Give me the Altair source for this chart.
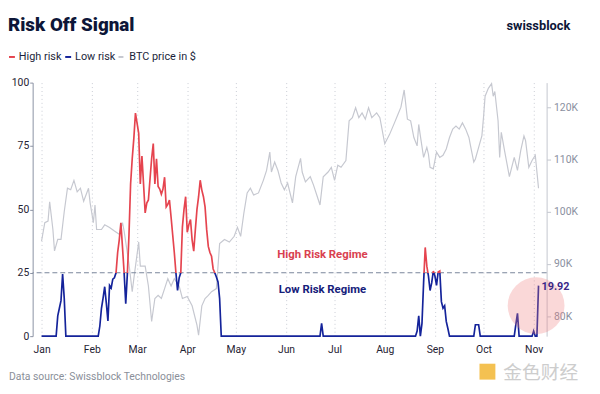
import altair as alt
import pandas as pd

# ---------------- data ----------------
risk_dates = [
    "2025-01-01", "2025-01-10", "2025-01-11", "2025-01-12", "2025-01-13", "2025-01-14", "2025-01-15", "2025-01-16",
    "2025-02-05", "2025-02-06", "2025-02-07", "2025-02-08", "2025-02-09", "2025-02-10", "2025-02-11", "2025-02-12",
    "2025-02-13", "2025-02-14", "2025-02-15", "2025-02-16", "2025-02-17", "2025-02-18", "2025-02-19", "2025-02-20",
    "2025-02-21", "2025-02-22", "2025-02-23", "2025-02-24", "2025-02-25", "2025-02-26", "2025-02-27", "2025-02-28",
    "2025-03-01", "2025-03-02", "2025-03-03", "2025-03-04", "2025-03-05", "2025-03-06", "2025-03-07", "2025-03-08",
    "2025-03-09", "2025-03-10", "2025-03-11", "2025-03-12", "2025-03-13", "2025-03-14", "2025-03-15", "2025-03-16",
    "2025-03-17", "2025-03-18", "2025-03-19", "2025-03-20", "2025-03-21", "2025-03-22", "2025-03-23", "2025-03-24",
    "2025-03-25", "2025-03-26", "2025-03-27", "2025-03-28", "2025-03-29", "2025-03-30", "2025-03-31", "2025-04-01",
    "2025-04-02", "2025-04-03", "2025-04-04", "2025-04-05", "2025-04-06", "2025-04-07", "2025-04-08", "2025-04-09",
    "2025-04-10", "2025-04-11", "2025-04-12", "2025-04-13", "2025-04-14", "2025-04-15", "2025-04-16", "2025-04-17",
    "2025-04-18", "2025-04-19", "2025-04-20", "2025-04-21", "2025-04-22",
    "2025-06-22", "2025-06-23", "2025-06-24",
    "2025-08-20", "2025-08-21", "2025-08-22", "2025-08-23", "2025-08-24", "2025-08-25", "2025-08-26", "2025-08-27",
    "2025-08-28", "2025-08-29", "2025-08-30", "2025-08-31", "2025-09-01", "2025-09-02", "2025-09-03", "2025-09-04",
    "2025-09-05", "2025-09-06", "2025-09-07", "2025-09-08", "2025-09-09", "2025-09-10",
    "2025-09-25", "2025-09-26", "2025-09-28", "2025-09-29",
    "2025-10-20", "2025-10-21", "2025-10-22", "2025-10-23",
    "2025-10-31", "2025-11-01", "2025-11-02", "2025-11-03", "2025-11-04",
]
risk_values = [
    0, 0, 8, 11, 14, 24.5, 15, 0,
    0, 4, 11, 15, 19.5, 13, 6, 20,
    19, 22.5, 23, 25, 33, 38, 44.7, 35,
    25, 12.8, 24.5, 40, 60, 70, 78, 88,
    84, 80, 60, 71, 60, 48.6, 52.5, 53.7,
    62, 70, 76, 60, 70, 59, 58, 56,
    58, 62.7, 51, 52, 53.7, 47, 40, 33,
    25, 18, 23, 25, 43, 50, 55, 41,
    44, 46, 38, 33.5, 42, 50, 55, 61.5,
    57.6, 55, 51, 42, 35.4, 33, 31.5, 26.5,
    25, 23.3, 21.4, 14.8, 0,
    0, 5, 0,
    0, 2, 8, 0, 5, 21, 35, 27.6,
    23.7, 18, 21, 25.7, 23.7, 20, 25.3, 25.7,
    13.6, 11, 12, 5.8, 3, 0,
    0, 4.5, 4.5, 0,
    0, 4.6, 9, 0,
    0, 2, 0, 0, 19.92,
]

btc_dates = [
    "2025-01-01", "2025-01-03", "2025-01-05", "2025-01-06", "2025-01-08", "2025-01-09", "2025-01-11", "2025-01-13",
    "2025-01-15", "2025-01-17", "2025-01-19", "2025-01-21", "2025-01-23", "2025-01-25", "2025-01-27", "2025-01-30",
    "2025-01-31", "2025-02-02", "2025-02-03", "2025-02-04", "2025-02-07", "2025-02-09", "2025-02-12", "2025-02-15",
    "2025-02-18", "2025-02-20", "2025-02-21", "2025-02-24", "2025-02-26", "2025-02-27", "2025-03-02", "2025-03-03",
    "2025-03-06", "2025-03-08", "2025-03-10", "2025-03-12", "2025-03-14", "2025-03-16", "2025-03-18", "2025-03-20",
    "2025-03-22", "2025-03-24", "2025-03-27", "2025-03-29", "2025-04-01", "2025-04-04", "2025-04-07", "2025-04-08",
    "2025-04-10", "2025-04-12", "2025-04-14", "2025-04-16", "2025-04-19", "2025-04-21", "2025-04-24", "2025-04-27",
    "2025-04-30", "2025-05-02", "2025-05-04", "2025-05-06", "2025-05-08", "2025-05-10", "2025-05-12", "2025-05-15",
    "2025-05-18", "2025-05-20", "2025-05-22", "2025-05-23", "2025-05-25", "2025-05-27", "2025-05-29", "2025-05-31",
    "2025-06-02", "2025-06-05", "2025-06-07", "2025-06-10", "2025-06-11", "2025-06-13", "2025-06-16", "2025-06-18",
    "2025-06-20", "2025-06-22", "2025-06-24", "2025-06-27", "2025-06-29", "2025-07-01", "2025-07-03", "2025-07-05",
    "2025-07-08", "2025-07-10", "2025-07-12", "2025-07-14", "2025-07-16", "2025-07-18", "2025-07-20", "2025-07-22",
    "2025-07-24", "2025-07-27", "2025-07-29", "2025-08-01", "2025-08-04", "2025-08-07", "2025-08-09", "2025-08-11",
    "2025-08-13", "2025-08-15", "2025-08-17", "2025-08-19", "2025-08-21", "2025-08-22", "2025-08-23", "2025-08-25",
    "2025-08-27", "2025-08-28", "2025-08-29", "2025-08-31", "2025-09-02", "2025-09-04", "2025-09-06", "2025-09-08",
    "2025-09-10", "2025-09-12", "2025-09-14", "2025-09-16", "2025-09-18", "2025-09-20", "2025-09-22", "2025-09-23",
    "2025-09-25", "2025-09-26", "2025-09-28", "2025-09-30", "2025-10-01", "2025-10-02", "2025-10-04", "2025-10-06",
    "2025-10-07", "2025-10-08", "2025-10-10", "2025-10-11", "2025-10-12", "2025-10-14", "2025-10-17", "2025-10-20",
    "2025-10-22", "2025-10-24", "2025-10-26", "2025-10-27", "2025-10-29", "2025-10-31", "2025-11-02", "2025-11-04",
]
btc_values_k = [
    94.4, 97.9, 98.2, 101.9, 96.6, 92.5, 94.7, 94.7,
    100.0, 104.5, 104.2, 106.0, 103.8, 104.5, 102.0, 104.5,
    101.7, 97.9, 101.3, 96.6, 96.6, 97.5, 97.0, 96.3,
    95.7, 97.9, 96.3, 90.0, 84.7, 87.2, 94.2, 89.6,
    89.6, 85.8, 79.0, 83.4, 84.0, 83.4, 85.3, 87.2,
    85.8, 87.2, 85.8, 83.4, 83.8, 82.0, 78.3, 76.4,
    82.0, 83.4, 84.0, 84.7, 85.3, 93.9, 94.7, 94.2,
    95.3, 97.0, 95.3, 99.8, 103.6, 104.5, 103.2, 103.6,
    106.0, 107.9, 111.4, 107.6, 109.5, 107.9, 105.5, 104.2,
    105.5, 101.7, 106.7, 110.2, 107.6, 105.7, 106.7, 105.1,
    103.2, 101.3, 106.7, 107.6, 108.5, 106.0, 108.9, 108.5,
    109.8, 117.4, 118.0, 119.9, 118.0, 118.9, 117.7, 119.9,
    118.0, 118.9, 118.0, 113.0, 114.8, 117.0, 118.5, 120.0,
    123.3, 117.7, 117.4, 114.2, 112.6, 116.7, 114.5, 110.4,
    112.3, 111.0, 108.5, 108.2, 111.4, 110.4, 110.8, 112.0,
    114.2, 115.8, 116.4, 115.8, 117.0, 115.8, 114.2, 112.6,
    109.5, 110.1, 112.3, 114.5, 118.0, 122.1, 123.6, 124.5,
    122.1, 123.0, 117.4, 110.4, 115.2, 111.7, 106.7, 110.4,
    107.9, 111.7, 114.5, 113.6, 108.5, 109.8, 110.8, 104.5,
]

threshold = 25
risk_ticks = [0, 25, 50, 75, 100]
btc_ticks_k = [80, 90, 100, 110, 120]
month_numbers = list(range(1, 12))
last_date = "2025-11-04"
last_value = 19.92
high_label = {"date": "2025-06-23T12:00:00", "value": 32, "text": "High Risk Regime"}
low_label = {"date": "2025-06-23T12:00:00", "value": 18.3, "text": "Low Risk Regime"}
highlight = {"date": "2025-11-02T12:00:00", "value": 12}

# ---------------- styles ----------------
RED = "#e5444f"
BLUE = "#14239a"
GRAY = "#c6c8d0"
NAVY = "#0d1638"
FONT = "Roboto"

risk_df = pd.DataFrame({"date": risk_dates, "risk": risk_values})
btc_df = pd.DataFrame({"date": btc_dates, "btc": btc_values_k})
one = pd.DataFrame({"k": [0]})

x_scale = alt.Scale(
    type="utc",
    domain=[
        alt.DateTime(year=2024, month=12, date=26, hours=12, utc=True),
        alt.DateTime(year=2025, month=11, date=9, utc=True),
    ],
)
x_axis = alt.Axis(
    values=[alt.DateTime(year=2025, month=m, date=1, utc=True) for m in month_numbers],
    labelExpr="utcFormat(datum.value, '%b')",
    domain=False,
    ticks=False,
    grid=True,
    gridColor="#c9ccd4",
    gridDash=[1, 3],
    gridWidth=1,
    labelPadding=9,
    labelFontSize=10.5,
    labelColor="#1f2333",
    labelFont=FONT,
    title=None,
)
X = alt.X("date:T", scale=x_scale, axis=x_axis)

left_scale = alt.Scale(domain=[0, 100], nice=False, zero=False)
left_axis = alt.Axis(
    orient="left",
    values=risk_ticks,
    grid=False,
    domainColor="#8a91a3",
    tickColor="#8a91a3",
    tickSize=3,
    labelPadding=1,
    labelFontSize=10.5,
    labelColor="#1f2333",
    labelFont=FONT,
    title=None,
)


def YL(field):
    return alt.Y(field, scale=left_scale, axis=left_axis, title=None)


# BTC price (right axis)
btc_line = alt.Chart(btc_df).mark_line(color=GRAY, strokeWidth=1.2).encode(
    x=X,
    y=alt.Y(
        "btc:Q",
        scale=alt.Scale(domain=[76.2, 124.7], nice=False, zero=False),
        axis=alt.Axis(
            orient="right",
            values=btc_ticks_k,
            labelExpr="datum.value + 'K'",
            grid=False,
            domainColor="#c3c6ce",
            tickColor="#c3c6ce",
            tickSize=4,
            labelPadding=3,
            labelFontSize=10.5,
            labelColor="#8a90a0",
            labelFont=FONT,
            title=None,
        ),
    ),
)

# threshold rule
rule25 = alt.Chart(pd.DataFrame({"t": [threshold]})).mark_rule(
    color="#7b879c", strokeDash=[5, 3], strokeWidth=1.2
).encode(y=YL("t:Q"))

# risk line coloured by threshold through a hard-stop gradient
tmax = max(risk_values)
tmin = min(risk_values)
off = (threshold - tmin) / (tmax - tmin)
grad = alt.Gradient(
    gradient="linear",
    x1=0, x2=0, y1=1, y2=0,
    stops=[
        alt.GradientStop(color=BLUE, offset=0),
        alt.GradientStop(color=BLUE, offset=off),
        alt.GradientStop(color=RED, offset=off),
        alt.GradientStop(color=RED, offset=1),
    ],
)
risk_line = alt.Chart(risk_df).mark_line(stroke=grad, strokeWidth=1.7).encode(
    x=X, y=YL("risk:Q")
)

lab_df = pd.DataFrame([high_label, low_label])
regime_text = alt.Chart(lab_df).mark_text(
    font=FONT, fontSize=11.5, fontWeight="bold", align="center", baseline="middle"
).encode(
    x=X,
    y=YL("value:Q"),
    text="text:N",
    color=alt.Color("text:N", scale=alt.Scale(domain=["High Risk Regime", "Low Risk Regime"],
                                              range=["#d9414f", "#15207a"]), legend=None),
)

circle = alt.Chart(pd.DataFrame([highlight])).mark_circle(
    size=3318, color="#ee7f7f", opacity=0.3
).encode(x=X, y=YL("value:Q"))

last_text = alt.Chart(pd.DataFrame({"date": [last_date], "value": [last_value]})).mark_text(
    font=FONT, fontSize=11, fontWeight="bold", align="left", baseline="middle", dx=3, dy=1, color="#3a2889"
).encode(
    x=X,
    y=YL("value:Q"),
    text=alt.Text("value:Q", format=".2f"),
)

left_group = alt.layer(rule25, risk_line, regime_text, circle, last_text)


def txt(text, x, y, **kw):
    return alt.Chart(one).mark_text(text=text, font=FONT, **kw).encode(x=alt.value(x), y=alt.value(y))


def dash(x1, x2, y, color):
    return alt.Chart(one).mark_rule(color=color, strokeWidth=2).encode(
        x=alt.value(x1), x2=alt.value(x2), y=alt.value(y)
    )


overlays = [
    txt("Risk Off Signal", -25, -52, fontSize=19, fontWeight=900, color=NAVY, align="left", baseline="alphabetic"),
    txt("swissblock", 545, -53, fontSize=13, fontWeight="bold", color=NAVY, align="right", baseline="alphabetic"),
    dash(-24, -18, -26, RED),
    txt("High risk", -14, -26, fontSize=11, color="#1b1f3b", align="left", baseline="middle"),
    dash(33, 39, -26, BLUE),
    txt("Low risk", 43, -26, fontSize=11, color="#1b1f3b", align="left", baseline="middle"),
    dash(87, 92, -26, GRAY),
    txt("BTC price in $", 98, -26, fontSize=11, color="#1b1f3b", align="left", baseline="middle"),
    txt("Data source: Swissblock Technologies", -24, 298, fontSize=10.5, color="#8a8f99",
        align="left", baseline="middle"),
    alt.Chart(one).mark_square(size=260, color="#f2b632", opacity=0.85).encode(x=alt.value(461), y=alt.value(293)),
    alt.Chart(one).mark_text(text="金色财经", font="Noto Sans CJK SC", fontSize=19, color="#c8c8c8",
                             opacity=0.9, align="left", baseline="middle").encode(x=alt.value(477), y=alt.value(294)),
]

chart = (
    alt.layer(btc_line, left_group, *overlays)
    .resolve_scale(y="independent")
    .properties(
        width=521,
        height=257,
        autosize=alt.AutoSizeParams(type="none"),
        padding={"left": 25, "top": 73, "right": 46, "bottom": 56},
        background="white",
    )
    .configure_view(stroke=None)
)

chart.save("out.html", embed_options={"renderer": "svg", "actions": False})
